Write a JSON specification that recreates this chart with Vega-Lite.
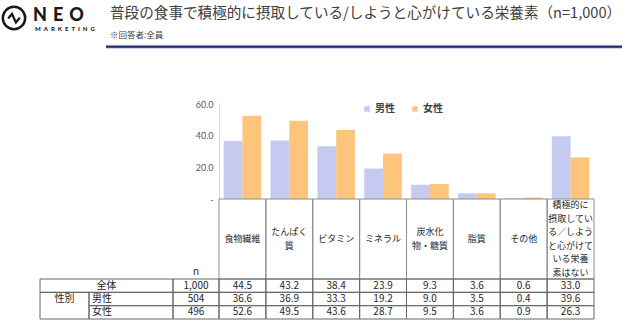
{
  "$schema": "https://vega.github.io/schema/vega-lite/v6.json",
  "width": 408,
  "height": 280,
  "padding": {"left": 219, "top": 47, "right": 0, "bottom": 0},
  "autosize": {"type": "none"},
  "background": "white",
  "config": {"view": {"stroke": null}, "font": "Noto Sans CJK JP"},
  "title": {
    "text": "普段の食事で積極的に摂取している/しようと心がけている栄養素（n=1,000）",
    "subtitle": "※回答者:全員",
    "anchor": "start",
    "frame": "group",
    "dx": -109,
    "offset": -38,
    "font": "Noto Sans CJK JP",
    "fontSize": 14.6,
    "fontWeight": "normal",
    "color": "#404040",
    "subtitleFont": "Noto Sans CJK JP",
    "subtitleFontSize": 8.5,
    "subtitleColor": "#404040",
    "subtitlePadding": 11
  },
  "datasets": {
    "values": [
      {"category": "食物繊維", "segment": "全体", "value": 44.5},
      {"category": "食物繊維", "segment": "男性", "value": 36.6},
      {"category": "食物繊維", "segment": "女性", "value": 52.6},
      {"category": "たんぱく質", "segment": "全体", "value": 43.2},
      {"category": "たんぱく質", "segment": "男性", "value": 36.9},
      {"category": "たんぱく質", "segment": "女性", "value": 49.5},
      {"category": "ビタミン", "segment": "全体", "value": 38.4},
      {"category": "ビタミン", "segment": "男性", "value": 33.3},
      {"category": "ビタミン", "segment": "女性", "value": 43.6},
      {"category": "ミネラル", "segment": "全体", "value": 23.9},
      {"category": "ミネラル", "segment": "男性", "value": 19.2},
      {"category": "ミネラル", "segment": "女性", "value": 28.7},
      {"category": "炭水化物・糖質", "segment": "全体", "value": 9.3},
      {"category": "炭水化物・糖質", "segment": "男性", "value": 9.0},
      {"category": "炭水化物・糖質", "segment": "女性", "value": 9.5},
      {"category": "脂質", "segment": "全体", "value": 3.6},
      {"category": "脂質", "segment": "男性", "value": 3.5},
      {"category": "脂質", "segment": "女性", "value": 3.6},
      {"category": "その他", "segment": "全体", "value": 0.6},
      {"category": "その他", "segment": "男性", "value": 0.4},
      {"category": "その他", "segment": "女性", "value": 0.9},
      {"category": "積極的に摂取している／しようと心がけている栄養素はない", "segment": "全体", "value": 33.0},
      {"category": "積極的に摂取している／しようと心がけている栄養素はない", "segment": "男性", "value": 39.6},
      {"category": "積極的に摂取している／しようと心がけている栄養素はない", "segment": "女性", "value": 26.3}
    ],
    "categories": [
      {"category": "食物繊維", "lines": ["食物繊維"]},
      {"category": "たんぱく質", "lines": ["たんぱく", "質"]},
      {"category": "ビタミン", "lines": ["ビタミン"]},
      {"category": "ミネラル", "lines": ["ミネラル"]},
      {"category": "炭水化物・糖質", "lines": ["炭水化", "物・糖質"]},
      {"category": "脂質", "lines": ["脂質"]},
      {"category": "その他", "lines": ["その他"]},
      {"category": "積極的に摂取している／しようと心がけている栄養素はない", "lines": ["積極的に", "摂取してい", "る／しよう", "と心がけて", "いる栄養", "素はない"]}
    ],
    "segments": [
      {"segment": "全体", "group": "全体", "n": 1000},
      {"segment": "男性", "group": "性別", "n": 504},
      {"segment": "女性", "group": "性別", "n": 496}
    ],
    "brand": [{"brand": "NEO", "tagline": "MARKETING"}]
  },
  "layer": [
    {
      "data": {"name": "brand"},
      "mark": {"type": "rule", "color": "#c3c9e6", "strokeWidth": 4},
      "encoding": {
        "x": {"datum": 0, "type": "quantitative", "scale": {"domain": [0, 1], "range": [-113, 403]}, "axis": null},
        "x2": {"datum": 1},
        "y": {"datum": 0, "type": "quantitative", "scale": {"domain": [0, 1], "range": [-0.3, 10]}, "axis": null}
      }
    },
    {
      "data": {"name": "brand"},
      "mark": {"type": "rule", "color": "#1c2466", "strokeWidth": 2},
      "encoding": {
        "x": {"datum": 0, "type": "quantitative", "scale": {"domain": [0, 1], "range": [-113, 403]}, "axis": null},
        "x2": {"datum": 1},
        "y": {"datum": 0, "type": "quantitative", "scale": {"domain": [0, 1], "range": [-0.3, 10]}, "axis": null}
      }
    },
    {
      "data": {"name": "brand"},
      "mark": {"type": "point", "shape": "circle", "filled": false, "color": "#1a1a1a", "strokeWidth": 2.5, "size": 500, "opacity": 1},
      "encoding": {
        "x": {"field": "brand", "type": "nominal", "scale": {"type": "point", "range": [-205, -205]}, "axis": null},
        "y": {"field": "brand", "type": "nominal", "scale": {"type": "point", "range": [-29, -29]}, "axis": null}
      }
    },
    {
      "data": {"name": "brand"},
      "mark": {"type": "point", "shape": "M-0.52,0.04L-0.18,-0.36L0.17,0.4L0.52,-0.02", "filled": false, "color": "#1a1a1a", "strokeWidth": 2.3, "size": 500, "opacity": 1, "strokeJoin": "miter"},
      "encoding": {
        "x": {"field": "brand", "type": "nominal", "scale": {"type": "point", "range": [-205, -205]}, "axis": null},
        "y": {"field": "brand", "type": "nominal", "scale": {"type": "point", "range": [-29, -29]}, "axis": null}
      }
    },
    {
      "data": {"name": "brand"},
      "transform": [{"calculate": "join(split(datum.brand, ''), '\u2004')", "as": "spaced"}],
      "mark": {"type": "text", "font": "Lato", "fontWeight": 900, "fontSize": 18, "align": "left", "baseline": "middle", "color": "#1a1a1a"},
      "encoding": {
        "x": {"field": "brand", "type": "nominal", "scale": {"type": "point", "range": [-186, -186]}, "axis": null},
        "y": {"field": "brand", "type": "nominal", "scale": {"type": "point", "range": [-31.5, -31.5]}, "axis": null},
        "text": {"field": "spaced"}
      }
    },
    {
      "data": {"name": "brand"},
      "transform": [{"calculate": "join(split(datum.tagline, ''), '\u2002')", "as": "spaced"}],
      "mark": {"type": "text", "font": "Lato", "fontWeight": 900, "fontSize": 6, "align": "left", "baseline": "middle", "color": "#1a1a1a"},
      "encoding": {
        "x": {"field": "tagline", "type": "nominal", "scale": {"type": "point", "range": [-184, -184]}, "axis": null},
        "y": {"field": "tagline", "type": "nominal", "scale": {"type": "point", "range": [-18, -18]}, "axis": null},
        "text": {"field": "spaced"}
      }
    },
    {
      "data": {"name": "values"},
      "transform": [{"filter": "datum.segment !== '全体'"}],
      "mark": {"type": "bar"},
      "encoding": {
        "x": {"field": "category", "type": "nominal", "sort": null, "scale": {"range": [0, 375], "paddingInner": 0.2, "paddingOuter": 0.1}, "axis": null},
        "xOffset": {"field": "segment", "type": "nominal", "sort": ["男性", "女性"], "scale": {"paddingInner": 0, "paddingOuter": 0}},
        "y": {
          "field": "value", "type": "quantitative",
          "scale": {"domain": [0, 60], "range": [152, 57], "nice": false},
          "axis": {"values": [0, 20, 40, 60], "labelExpr": "datum.value === 0 ? '-' : format(datum.value, '.1f')", "title": null, "grid": false, "ticks": false, "domainColor": "#d9d9d9", "labelColor": "#595959", "labelFontSize": 9, "labelFont": "Lato", "labelPadding": 6}
        },
        "color": {
          "field": "segment", "type": "nominal",
          "scale": {"domain": ["男性", "女性"], "range": ["#c4caf0", "#fdc47c"]},
          "legend": {"title": null, "orient": "none", "legendX": 143, "legendY": 57, "direction": "horizontal", "symbolType": "square", "symbolSize": 30, "symbolStrokeWidth": 0, "labelFontSize": 10, "labelFontWeight": "bold", "labelColor": "#404040", "columnPadding": 15, "labelOffset": 3}
        }
      }
    },
    {
      "data": {"name": "categories"},
      "mark": {"type": "rect", "filled": false, "color": "#8c8c8c", "strokeWidth": 1},
      "encoding": {
        "x": {"field": "category", "type": "nominal", "sort": null, "scale": {"range": [0, 375], "paddingInner": 0, "paddingOuter": 0}, "axis": null},
        "y": {"datum": "設問", "type": "nominal", "scale": {"range": [152, 232], "paddingInner": 0, "paddingOuter": 0}, "axis": null}
      }
    },
    {
      "data": {"name": "categories"},
      "transform": [
        {"flatten": ["lines"], "as": ["line"]},
        {"window": [{"op": "row_number", "as": "k"}], "groupby": ["category"]},
        {"joinaggregate": [{"op": "count", "as": "count"}], "groupby": ["category"]},
        {"calculate": "datum.k - (datum.count + 1) / 2", "as": "linePos"}
      ],
      "mark": {"type": "text", "fontSize": 9, "color": "#262626", "baseline": "middle"},
      "encoding": {
        "x": {"field": "category", "type": "nominal", "sort": null, "scale": {"range": [0, 375]}, "axis": null},
        "y": {"field": "linePos", "type": "quantitative", "scale": {"domain": [-3, 3], "range": [151.2, 232.8]}, "axis": null},
        "text": {"field": "line"}
      }
    },
    {
      "data": {"name": "brand"},
      "mark": {"type": "text", "fontSize": 10, "color": "#262626", "baseline": "middle"},
      "encoding": {
        "x": {"datum": "n", "type": "nominal", "scale": {"type": "point", "range": [-23, -23]}, "axis": null},
        "y": {"datum": "n", "type": "nominal", "scale": {"type": "point", "range": [225, 225]}, "axis": null},
        "text": {"datum": "n"}
      }
    },
    {
      "data": {"name": "values"},
      "mark": {"type": "rect", "filled": false, "color": "#666666", "strokeWidth": 1},
      "encoding": {
        "x": {"field": "category", "type": "nominal", "sort": null, "scale": {"range": [0, 375], "paddingInner": 0, "paddingOuter": 0}, "axis": null},
        "y": {"field": "segment", "type": "nominal", "sort": ["全体", "男性", "女性"], "scale": {"range": [232, 272], "paddingInner": 0, "paddingOuter": 0}, "axis": null}
      }
    },
    {
      "data": {"name": "values"},
      "mark": {"type": "text", "fontSize": 10, "color": "#262626", "baseline": "middle"},
      "encoding": {
        "x": {"field": "category", "type": "nominal", "sort": null, "scale": {"range": [0, 375]}, "axis": null},
        "y": {"field": "segment", "type": "nominal", "sort": ["全体", "男性", "女性"], "scale": {"range": [232, 272]}, "axis": null},
        "text": {"field": "value", "format": ".1f"}
      }
    },
    {
      "data": {"name": "segments"},
      "mark": {"type": "rect", "filled": false, "color": "#666666", "strokeWidth": 1},
      "encoding": {
        "x": {"datum": "n", "type": "nominal", "scale": {"type": "band", "range": [-46, 0], "paddingInner": 0, "paddingOuter": 0}, "axis": null},
        "y": {"field": "segment", "type": "nominal", "sort": ["全体", "男性", "女性"], "scale": {"range": [232, 272], "paddingInner": 0, "paddingOuter": 0}, "axis": null}
      }
    },
    {
      "data": {"name": "segments"},
      "mark": {"type": "text", "fontSize": 10, "color": "#262626", "baseline": "middle"},
      "encoding": {
        "x": {"datum": "n", "type": "nominal", "scale": {"type": "point", "range": [-46, 0]}, "axis": null},
        "y": {"field": "segment", "type": "nominal", "sort": ["全体", "男性", "女性"], "scale": {"range": [232, 272]}, "axis": null},
        "text": {"field": "n", "format": ","}
      }
    },
    {
      "data": {"name": "segments"},
      "transform": [{"filter": "datum.segment === '全体'"}],
      "mark": {"type": "rect", "filled": false, "color": "#666666", "strokeWidth": 1},
      "encoding": {
        "x": {"field": "group", "type": "nominal", "scale": {"type": "band", "range": [-179, -46], "paddingInner": 0, "paddingOuter": 0}, "axis": null},
        "y": {"field": "segment", "type": "nominal", "scale": {"domain": ["全体", "男性", "女性"], "range": [232, 272], "paddingInner": 0, "paddingOuter": 0}, "axis": null}
      }
    },
    {
      "data": {"name": "segments"},
      "transform": [{"filter": "datum.segment === '全体'"}],
      "mark": {"type": "text", "fontSize": 10, "color": "#262626", "baseline": "middle"},
      "encoding": {
        "x": {"field": "group", "type": "nominal", "scale": {"type": "point", "range": [-179, -46]}, "axis": null},
        "y": {"field": "segment", "type": "nominal", "scale": {"domain": ["全体", "男性", "女性"], "range": [232, 272]}, "axis": null},
        "text": {"field": "group"}
      }
    },
    {
      "data": {"name": "segments"},
      "transform": [{"filter": "datum.segment !== '全体'"}, {"aggregate": [{"op": "count", "as": "rows"}], "groupby": ["group"]}],
      "mark": {"type": "rect", "filled": false, "color": "#666666", "strokeWidth": 1},
      "encoding": {
        "x": {"field": "group", "type": "nominal", "scale": {"type": "band", "range": [-179, -130], "paddingInner": 0, "paddingOuter": 0}, "axis": null},
        "y": {"field": "group", "type": "nominal", "scale": {"type": "band", "range": [245.33, 272], "paddingInner": 0, "paddingOuter": 0}, "axis": null}
      }
    },
    {
      "data": {"name": "segments"},
      "transform": [{"filter": "datum.segment === '男性'"}],
      "mark": {"type": "text", "fontSize": 10, "color": "#262626", "baseline": "middle"},
      "encoding": {
        "x": {"field": "group", "type": "nominal", "scale": {"type": "point", "range": [-154.5, -154.5]}, "axis": null},
        "y": {"field": "segment", "type": "nominal", "scale": {"domain": ["全体", "男性", "女性"], "range": [232, 272]}, "axis": null},
        "text": {"field": "group"}
      }
    },
    {
      "data": {"name": "segments"},
      "transform": [{"filter": "datum.segment !== '全体'"}],
      "mark": {"type": "rect", "filled": false, "color": "#666666", "strokeWidth": 1},
      "encoding": {
        "x": {"datum": "区分", "type": "nominal", "scale": {"type": "band", "range": [-130, -46], "paddingInner": 0, "paddingOuter": 0}, "axis": null},
        "y": {"field": "segment", "type": "nominal", "scale": {"domain": ["全体", "男性", "女性"], "range": [232, 272], "paddingInner": 0, "paddingOuter": 0}, "axis": null}
      }
    },
    {
      "data": {"name": "segments"},
      "transform": [{"filter": "datum.segment !== '全体'"}],
      "mark": {"type": "text", "fontSize": 10, "color": "#262626", "baseline": "middle", "align": "left"},
      "encoding": {
        "x": {"datum": "区分", "type": "nominal", "scale": {"type": "point", "range": [-127, -127]}, "axis": null},
        "y": {"field": "segment", "type": "nominal", "scale": {"domain": ["全体", "男性", "女性"], "range": [232, 272]}, "axis": null},
        "text": {"field": "segment"}
      }
    }
  ],
  "resolve": {
    "scale": {"x": "independent", "y": "independent", "xOffset": "independent", "color": "independent"},
    "axis": {"x": "independent", "y": "independent"}
  }
}
